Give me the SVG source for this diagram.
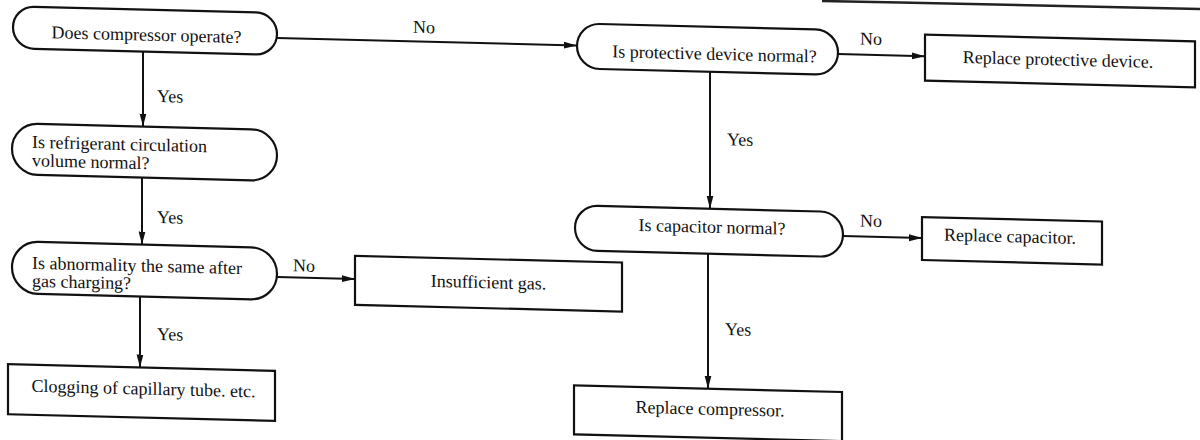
<svg xmlns="http://www.w3.org/2000/svg" width="1200" height="440" viewBox="0 0 1200 440">
<style>
.box{fill:#fff;stroke:#111;stroke-width:2.2}
.t{font-family:"Liberation Serif","Times New Roman",serif;font-size:18px;fill:#111}
.m{text-anchor:middle}
.c{stroke:#111;stroke-width:2;fill:none}
</style>
<defs>
<marker id="ah" markerUnits="userSpaceOnUse" markerWidth="14" markerHeight="8" refX="13" refY="4" orient="auto">
<path d="M0,0.6 L13,4 L0,7.4 Z" fill="#111"/>
</marker>
</defs>
<rect width="1200" height="440" fill="#fff"/>
<polyline points="822,1 900,2.5 1200,9" fill="none" stroke="#222" stroke-width="2.5"/>
<g transform="matrix(1 0.025 0 1 0 0)">
<g id="connectors">
<line class="c" x1="277" y1="31" x2="577" y2="31" marker-end="url(#ah)"/>
<line class="c" x1="143" y1="48" x2="143" y2="123" marker-end="url(#ah)"/>
<line class="c" x1="142" y1="174" x2="142" y2="241" marker-end="url(#ah)"/>
<line class="c" x1="277" y1="270" x2="355" y2="270" marker-end="url(#ah)"/>
<line class="c" x1="140" y1="293" x2="140" y2="364" marker-end="url(#ah)"/>
<line class="c" x1="838" y1="33" x2="925" y2="33" marker-end="url(#ah)"/>
<line class="c" x1="710" y1="54" x2="710" y2="191" marker-end="url(#ah)"/>
<line class="c" x1="843" y1="215" x2="922" y2="215" marker-end="url(#ah)"/>
<line class="c" x1="708" y1="236" x2="708" y2="371" marker-end="url(#ah)"/>
<text class="t" x="413" y="22.5">No</text>
<text class="t" x="157" y="98">Yes</text>
<text class="t" x="157" y="219">Yes</text>
<text class="t" x="293" y="264">No</text>
<text class="t" x="157" y="336">Yes</text>
<text class="t" x="860" y="23">No</text>
<text class="t" x="727" y="127">Yes</text>
<text class="t" x="860" y="205">No</text>
<text class="t" x="725" y="317">Yes</text>
</g>
<g id="n-compressor-operate">
<rect class="box" x="13" y="6" width="264" height="42" rx="21"/>
<text class="t m" x="146.5" y="37">Does compressor operate?</text>
</g>
<g id="n-refrigerant">
<rect class="box" x="12" y="123" width="265" height="51" rx="25.5"/>
<text class="t" x="32" y="147">Is refrigerant circulation</text>
<text class="t" x="32" y="165.5">volume normal?</text>
</g>
<g id="n-abnormality">
<rect class="box" x="12" y="241" width="265" height="52" rx="26"/>
<text class="t" x="32" y="268">Is abnormality the same after</text>
<text class="t" x="32" y="286">gas charging?</text>
</g>
<g id="n-clogging">
<rect class="box" x="8" y="364" width="267" height="50"/>
<text class="t m" x="143.5" y="391">Clogging of capillary tube. etc.</text>
</g>
<g id="n-insufficient">
<rect class="box" x="355" y="247" width="267" height="49"/>
<text class="t m" x="488.5" y="276">Insufficient gas.</text>
</g>
<g id="n-protective">
<rect class="box" x="577" y="9" width="261" height="45" rx="22.5"/>
<text class="t m" x="714.5" y="42">Is protective device normal?</text>
</g>
<g id="n-replace-protective">
<rect class="box" x="925" y="11.5" width="270" height="46"/>
<text class="t m" x="1058" y="39">Replace protective device.</text>
</g>
<g id="n-capacitor">
<rect class="box" x="575" y="191" width="268" height="45" rx="22.5"/>
<text class="t m" x="712" y="215">Is capacitor normal?</text>
</g>
<g id="n-replace-capacitor">
<rect class="box" x="922" y="194" width="180" height="43"/>
<text class="t m" x="1010" y="217">Replace capacitor.</text>
</g>
<g id="n-replace-compressor">
<rect class="box" x="574" y="371" width="268" height="49"/>
<text class="t m" x="710" y="397">Replace compressor.</text>
</g>
</g>
</svg>
